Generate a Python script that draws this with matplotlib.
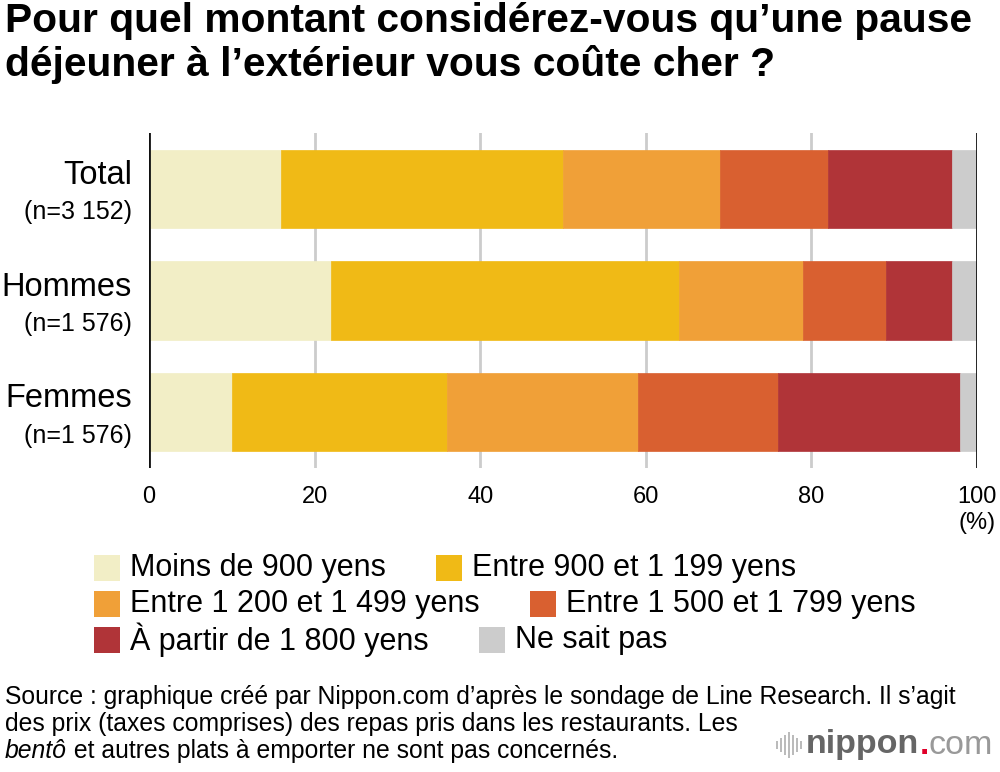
import matplotlib
matplotlib.use("Agg")
import matplotlib.pyplot as plt
from matplotlib.patches import Rectangle
import matplotlib.transforms as mtransforms
import numpy as np

plt.rcParams['font.family'] = ['Liberation Sans', 'DejaVu Sans']

groups = ["Total", "Hommes", "Femmes"]
group_n = ["(n=3 152)", "(n=1 576)", "(n=1 576)"]
series_names = ["Moins de 900 yens", "Entre 900 et 1 199 yens",
                "Entre 1 200 et 1 499 yens", "Entre 1 500 et 1 799 yens",
                "À partir de 1 800 yens", "Ne sait pas"]
values = {
    "Moins de 900 yens":          [16, 22, 10],
    "Entre 900 et 1 199 yens":    [34, 42, 26],
    "Entre 1 200 et 1 499 yens":  [19, 15, 23],
    "Entre 1 500 et 1 799 yens":  [13, 10, 17],
    "À partir de 1 800 yens":     [15, 8, 22],
    "Ne sait pas":                [3, 3, 2],
}
colors = ["#F2EEC6", "#F0BA16", "#F0A038", "#D96030", "#B03438", "#CCCCCC"]
xticks = [0, 20, 40, 60, 80, 100]

fig = plt.figure(figsize=(10, 7.72), dpi=100)
W, H = 1000, 772
ax = fig.add_axes([149 / W, 1 - 468 / H, (977 - 149) / W, (468 - 133) / H])

y = np.arange(len(groups))
left = np.zeros(len(groups))
for name, c in zip(series_names, colors):
    v = np.array(values[name], dtype=float)
    ax.barh(y, v, left=left, height=0.7, color=c, edgecolor=c, linewidth=0.5, zorder=3)
    left += v

ax.set_xlim(0, 100)
ax.set_ylim(2.5, -0.5)
for s in ax.spines.values():
    s.set_visible(False)
for xv in xticks:
    if xv in (0, 100):
        ax.axvline(xv, color="#111111", lw=2, zorder=4)
    else:
        ax.axvline(xv, color="#CCCCCC", lw=2, zorder=1)
ax.set_xticks(xticks)
ax.set_xticklabels([str(t) for t in xticks], fontsize=17)
ax.tick_params(axis='x', length=0, pad=13)
ax.set_yticks([])
ax.text(100, -0.165, "(%)", transform=mtransforms.blended_transform_factory(ax.transData, ax.transAxes),
        ha='center', va='center', fontsize=17)

trans = mtransforms.blended_transform_factory(fig.transFigure, ax.transData)
for i, (g, n) in enumerate(zip(groups, group_n)):
    ax.text(132 / W, i - 0.12, g, transform=trans, ha='right', va='center', fontsize=23.5)
    ax.text(132 / W, i + 0.21, n, transform=trans, ha='right', va='center', fontsize=18)

fig.text(5 / W, 1 - 21 / H, "Pour quel montant considérez-vous qu’une pause", fontsize=29.3,
         fontweight='bold', ha='left', va='center')
fig.text(5 / W, 1 - 65 / H, "déjeuner à l’extérieur vous coûte cher ?", fontsize=29.3,
         fontweight='bold', ha='left', va='center')

# legend (flowing layout)
fig.canvas.draw()
renderer = fig.canvas.get_renderer()
rows = [[0, 1], [2, 3], [4, 5]]
row_y = [568, 604, 640]
for r, ry in zip(rows, row_y):
    x = 94
    for k in r:
        fig.patches.append(Rectangle((x / W, 1 - (ry + 13) / H), 26 / W, 26 / H,
                                     transform=fig.transFigure, facecolor=colors[k],
                                     edgecolor='none'))
        t = fig.text((x + 36) / W, 1 - ry / H, series_names[k], fontsize=22,
                     ha='left', va='center')
        bb = t.get_window_extent(renderer)
        x = bb.x1 + 50

src = ["Source : graphique créé par Nippon.com d’après le sondage de Line Research. Il s’agit",
       "des prix (taxes comprises) des repas pris dans les restaurants. Les"]
fs_src = 17.8
fig.text(5 / W, 1 - 697 / H, src[0], fontsize=fs_src, ha='left', va='center')
fig.text(5 / W, 1 - 724 / H, src[1], fontsize=fs_src, ha='left', va='center')
t1 = fig.text(5 / W, 1 - 751 / H, "bentô", fontsize=fs_src, style='italic', ha='left', va='center')
bb = t1.get_window_extent(renderer)
fig.text(bb.x1 / W, 1 - 751 / H, " et autres plats à emporter ne sont pas concernés.",
         fontsize=fs_src, ha='left', va='center')

# logo
bars_h = [8, 14, 20, 26, 20, 14, 8]
for i, h in enumerate(bars_h):
    fig.patches.append(Rectangle(((776 + i * 4) / W, 1 - (745 + h / 2) / H), 2 / W, h / H,
                                 transform=fig.transFigure, facecolor="#BBBBBB", edgecolor='none'))
tl = fig.text(806 / W, 1 - 745 / H, "nippon", fontsize=24.5, fontweight='bold', color="#666666",
              ha='left', va='center')
bb = tl.get_window_extent(renderer)
td = fig.text(bb.x1 / W, 1 - 745 / H, ".", fontsize=24.5, fontweight='bold', color="#E0002A",
              ha='left', va='center')
bb = td.get_window_extent(renderer)
fig.text(bb.x1 / W, 1 - 745 / H, "com", fontsize=24.5, color="#999999", ha='left', va='center')

fig.savefig("out.png", dpi=100)
